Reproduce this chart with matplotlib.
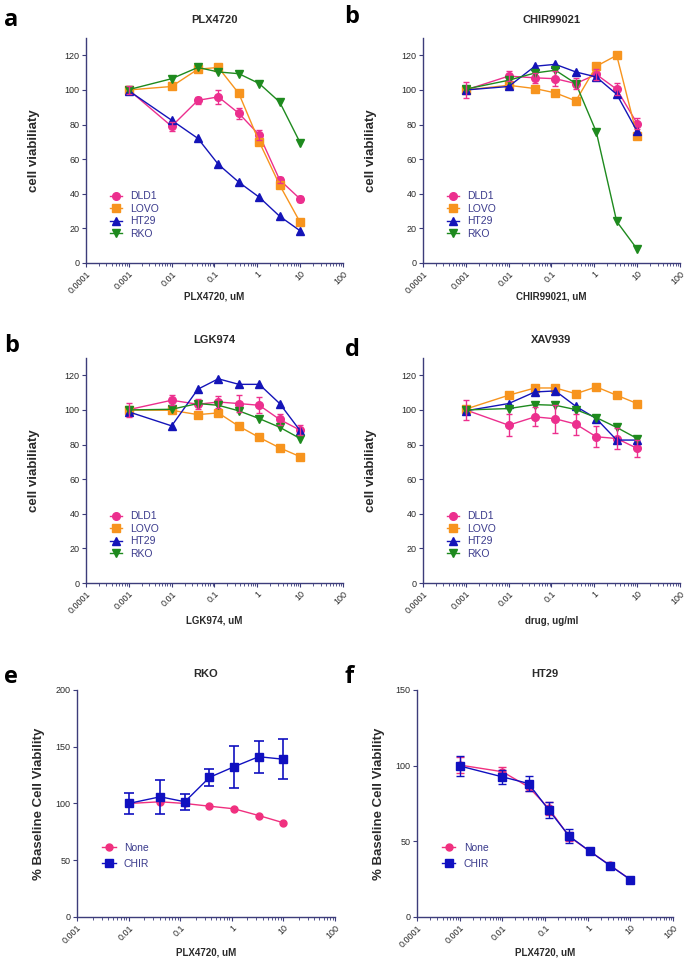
import matplotlib
matplotlib.use("Agg")
import matplotlib.pyplot as plt
from matplotlib.lines import Line2D
from matplotlib.ticker import LogLocator, NullFormatter

plt.rcParams['font.family'] = ['Liberation Sans', 'DejaVu Sans']

# doses (uM), 3-fold dilution series
dose = [0.001, 0.01, 0.041, 0.123, 0.37, 1.11, 3.33, 10]
dose_e = [0.01, 0.041, 0.123, 0.37, 1.11, 3.33, 10]

lines = ['DLD1', 'LOVO', 'HT29', 'RKO']
xticks = [0.0001, 0.001, 0.01, 0.1, 1, 10, 100]
xtick_labels = ['0.0001', '0.001', '0.01', '0.1', '1', '10', '100']
xticks_e = [0.001, 0.01, 0.1, 1, 10, 100]
xtick_labels_e = ['0.001', '0.01', '0.1', '1', '10', '100']

# panel a - PLX4720
plx_dld1 = [100, 79, 94, 96, 86.5, 74, 48, 37]
plx_dld1_err = [2.5, 2.5, 2, 4, 3, 3, 1.5, 1.5]
plx_lovo = [100, 102, 112, 113, 98, 70, 45, 23.5]
plx_ht29 = [99.5, 82.5, 72, 57, 46.7, 38, 27, 18.6]
plx_rko = [100.2, 106.5, 113, 110.4, 109.4, 103.7, 93, 69.5]

# panel b - CHIR99021
chir_dld1 = [100, 108, 107, 106.5, 103.7, 109, 100.4, 80.6]
chir_dld1_err = [4.5, 3, 3, 4.5, 3, 3, 3.5, 3]
chir_lovo = [100, 102.7, 100.8, 98.3, 93.7, 113.7, 120, 73.3]
chir_ht29 = [100, 102, 113.7, 114.8, 110.4, 107.5, 97.5, 76]
chir_rko = [100.5, 105.6, 109.8, 111.4, 103.7, 75.8, 24, 8]

# panel c - LGK974
lgk_dld1 = [100.2, 105.6, 103.3, 104.6, 103.7, 102.7, 94.5, 88.3]
lgk_dld1_err = [4, 3, 3, 3.5, 5, 4.5, 3, 3]
lgk_lovo = [100, 99.8, 97.3, 98.3, 90.6, 84.1, 78.1, 73]
lgk_ht29 = [98.9, 90.8, 112, 118, 114.8, 114.8, 103.7, 88]
lgk_rko = [100, 100.4, 103.7, 102.7, 99.5, 95, 90, 83.5]

# panel d - XAV939
xav_dld1 = [100, 91.2, 96, 94.9, 91.8, 84.5, 83.5, 77.8]
xav_dld1_err = [6, 6.5, 5.5, 8, 6, 6, 6, 5]
xav_lovo = [100.5, 108.5, 112.7, 112.7, 109.4, 113.3, 108.5, 103.7]
xav_ht29 = [99.5, 103.7, 110.4, 111, 102.1, 95, 82.6, 82.6]
xav_rko = [100, 100.8, 103.1, 102.7, 100.2, 95.6, 89.9, 83.5]

# panel e - RKO + PLX4720
rko_none = [100, 101.5, 100, 97.6, 95.3, 89.4, 83]
rko_chir = [100, 105.9, 101.5, 123, 132.4, 141.2, 139]
rko_chir_err = [9.4, 15, 7, 7.5, 18.5, 14, 17.5]

# panel f - HT29 + PLX4720
ht29_none = [100.4, 96, 86, 71.7, 53, 43.5, 34.2, 24.7]
ht29_none_err = [5, 3, 3, 4, 3, 1, 1, 1]
ht29_chir = [99.8, 92.6, 88.2, 70.6, 53.4, 43.5, 34, 24.7]
ht29_chir_err = [6.5, 4.5, 5, 5.5, 4.5, 1, 1, 1]

colors = {'DLD1': '#EC2F8E', 'LOVO': '#F7941E', 'HT29': '#1414B8', 'RKO': '#1E8A1E'}
markers = {'DLD1': 'o', 'LOVO': 's', 'HT29': '^', 'RKO': 'v'}
axis_color = '#3C3C7A'
text_color = '#2A2A2A'
legend_color = '#3A3A8C'
none_color = '#F0307F'
chir_color = '#1010C0'

fig = plt.figure(figsize=(6.85, 9.63), dpi=100)


def style_axis(ax, ticks, labels, xlim, ylim, yticks):
    ax.set_xscale('log')
    ax.set_xlim(*xlim)
    ax.set_ylim(*ylim)
    ax.set_xticks(ticks)
    ax.set_xticklabels(labels, rotation=45, ha='right', va='top',
                       rotation_mode='anchor', fontsize=6.5, color=text_color)
    ax.xaxis.set_minor_locator(LogLocator(base=10, subs=range(2, 10), numticks=20))
    ax.xaxis.set_minor_formatter(NullFormatter())
    ax.set_yticks(yticks)
    ax.set_yticklabels([str(v) for v in yticks], fontsize=6.5, color=text_color)
    for side in ['top', 'right']:
        ax.spines[side].set_visible(False)
    for side in ['left', 'bottom']:
        ax.spines[side].set_color(axis_color)
        ax.spines[side].set_linewidth(1)
    ax.tick_params(which='major', length=3, width=0.8, color=axis_color, pad=1.5)
    ax.tick_params(which='minor', length=1.8, width=0.6, color=axis_color)
    ax.tick_params(axis='y', which='minor', left=False)


def letter(x, y, s):
    fig.text(x, y, s, fontsize=17, fontweight='bold', ha='left', va='center',
             family=['Open Sans', 'DejaVu Sans'])


def cell_panel(rect, title, xlabel, data, err):
    ax = fig.add_axes(rect)
    style_axis(ax, xticks, xtick_labels, (0.0001, 100), (0, 130), [0, 20, 40, 60, 80, 100, 120])
    handles = []
    for name, vals in zip(lines, data):
        h, = ax.plot(dose, vals, color=colors[name], marker=markers[name],
                     markersize=5.5, linewidth=1, label=name, zorder=3)
        handles.append(h)
    ax.errorbar(dose, data[0], yerr=err, fmt='none', ecolor=colors['DLD1'],
                elinewidth=1, capsize=2.5, capthick=1, zorder=4)
    ax.set_title(title, fontsize=8, fontweight='bold', pad=11, color=text_color)
    ax.set_xlabel(xlabel, fontsize=7, fontweight='bold', color=text_color)
    ax.set_ylabel('cell viabiliaty', fontsize=9.5, fontweight='bold', color=text_color)
    ax.yaxis.set_label_coords(-0.18, 0.5)
    ax.legend(handles=handles, loc='center left', bbox_to_anchor=(0.093, 0.213),
              frameon=False, fontsize=7.5, handlelength=1.2, handletextpad=0.75,
              labelspacing=0.25, borderpad=0, borderaxespad=0, labelcolor=legend_color)
    return ax


ax_a = cell_panel([0.1255, 0.7269, 0.3752, 0.2336], 'PLX4720', 'PLX4720, uM',
                  [plx_dld1, plx_lovo, plx_ht29, plx_rko], plx_dld1_err)
ax_a.xaxis.set_label_coords(0.5, -0.125)
ax_b = cell_panel([0.6175, 0.7269, 0.3752, 0.2336], 'CHIR99021', 'CHIR99021, uM',
                  [chir_dld1, chir_lovo, chir_ht29, chir_rko], chir_dld1_err)
ax_b.xaxis.set_label_coords(0.5, -0.125)
ax_c = cell_panel([0.1255, 0.3946, 0.3752, 0.2336], 'LGK974', 'LGK974, uM',
                  [lgk_dld1, lgk_lovo, lgk_ht29, lgk_rko], lgk_dld1_err)
ax_c.xaxis.set_label_coords(0.5, -0.145)
ax_d = cell_panel([0.6175, 0.3946, 0.3752, 0.2336], 'XAV939', 'drug, ug/ml',
                  [xav_dld1, xav_lovo, xav_ht29, xav_rko], xav_dld1_err)
ax_d.xaxis.set_label_coords(0.5, -0.145)

letter(0.006, 0.979, 'a')
letter(0.503, 0.982, 'b')
letter(0.006, 0.641, 'b')
letter(0.503, 0.637, 'd')
letter(0.006, 0.297, 'e')
letter(0.503, 0.297, 'f')

# panel e
ax_e = fig.add_axes([0.1124, 0.0478, 0.3766, 0.2357])
style_axis(ax_e, xticks_e, xtick_labels_e, (0.001, 100), (0, 200), [0, 50, 100, 150, 200])
ax_e.plot(dose_e, rko_none, color=none_color, marker='o', markersize=5,
          linewidth=1, zorder=3)
ax_e.errorbar(dose_e, rko_chir, yerr=rko_chir_err, color=chir_color, marker='s',
              markersize=5.5, linewidth=1, elinewidth=1.2, capsize=3.5, capthick=1.2,
              zorder=4)
ax_e.set_title('RKO', fontsize=8, fontweight='bold', pad=9, color=text_color)
ax_e.set_xlabel('PLX4720, uM', fontsize=7, fontweight='bold', color=text_color)
ax_e.xaxis.set_label_coords(0.5, -0.135)
ax_e.set_ylabel('% Baseline Cell Viability', fontsize=9.5, fontweight='bold', color=text_color)
ax_e.yaxis.set_label_coords(-0.125, 0.5)

# panel f
ax_f = fig.add_axes([0.6088, 0.0478, 0.3737, 0.2357])
style_axis(ax_f, xticks, xtick_labels, (0.0001, 100), (0, 150), [0, 50, 100, 150])
ax_f.errorbar(dose, ht29_none, yerr=ht29_none_err, color=none_color, marker='o',
              markersize=5, linewidth=1, elinewidth=1, capsize=3, capthick=1, zorder=3)
ax_f.errorbar(dose, ht29_chir, yerr=ht29_chir_err, color=chir_color, marker='s',
              markersize=5.5, linewidth=1, elinewidth=1, capsize=3, capthick=1, zorder=4)
ax_f.set_title('HT29', fontsize=8, fontweight='bold', pad=9, color=text_color)
ax_f.set_xlabel('PLX4720, uM', fontsize=7, fontweight='bold', color=text_color)
ax_f.xaxis.set_label_coords(0.5, -0.135)
ax_f.set_ylabel('% Baseline Cell Viability', fontsize=9.5, fontweight='bold', color=text_color)
ax_f.yaxis.set_label_coords(-0.125, 0.5)

for ax in [ax_e, ax_f]:
    hs = [Line2D([], [], color=none_color, marker='o', markersize=5, linewidth=1),
          Line2D([], [], color=chir_color, marker='s', markersize=5.5, linewidth=1)]
    ax.legend(hs, ['None', 'CHIR'], loc='center left', bbox_to_anchor=(0.097, 0.27),
              frameon=False, fontsize=7.5, handlelength=1.3, handletextpad=0.8,
              labelspacing=0.6, borderpad=0, borderaxespad=0, labelcolor=legend_color)

fig.savefig('out.png', dpi=100)
